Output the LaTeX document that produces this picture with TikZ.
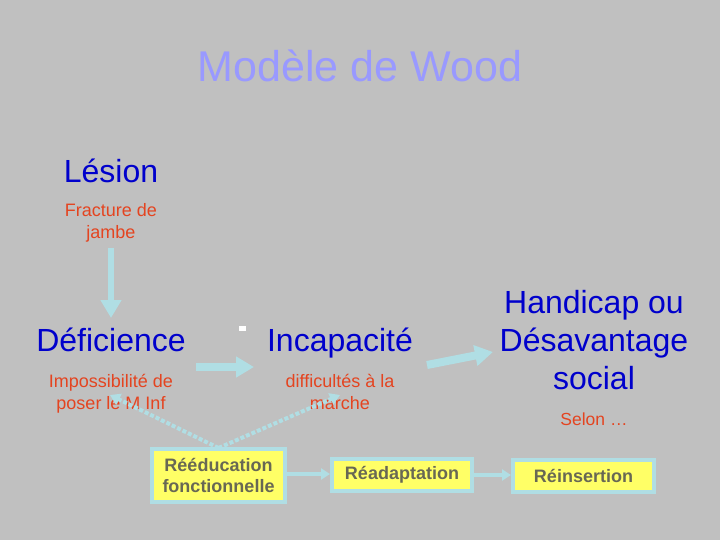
\documentclass[tikz,border=0pt]{standalone}
\usepackage{fontspec}
\setmainfont{Liberation Sans}
\usetikzlibrary{arrows.meta}
\definecolor{bg}{RGB}{192,192,192}
\definecolor{ttl}{RGB}{153,153,255}
\definecolor{blu}{RGB}{0,0,204}
\definecolor{rd}{RGB}{228,68,32}
\definecolor{pb}{RGB}{176,222,228}
\definecolor{yel}{RGB}{255,255,102}
\definecolor{boxtxt}{RGB}{104,104,84}
\tikzset{
  bigtxt/.style={font=\fontsize{32}{38}\selectfont, text=blu, anchor=base, inner sep=0pt},
  subtxt/.style={font=\fontsize{18}{22}\selectfont, text=rd, anchor=base, inner sep=0pt},
  fatarrow/.style={draw=pb, -{Triangle[length=18pt,width=20pt]}},
  dotarrow/.style={draw=pb, line width=4pt, dash pattern=on 4pt off 2pt, -{Triangle[length=10pt,width=12pt]}},
  thinarrow/.style={draw=pb, line width=3.5pt, -{Triangle[length=9pt,width=11pt]}},
  yellowbox/.style={draw=pb, line width=4pt, fill=yel, text=boxtxt, inner sep=0pt, align=center,
    font=\bfseries\fontsize{18}{21}\selectfont}
}
\begin{document}
\begin{tikzpicture}[x=1pt,y=-1pt]
\fill[bg] (0,0) rectangle (720,540);
\useasboundingbox (0,0) rectangle (720,540);

\node[font=\fontsize{43}{50}\selectfont, text=ttl, anchor=base, inner sep=0pt] (title) at (360,82) {Modèle de Wood};

\node[bigtxt] (lesion) at (111,183) {Lésion};
\node[subtxt] (frac1) at (111,217) {Fracture de};
\node[subtxt] (frac2) at (111,239) {jambe};

\node[bigtxt] (defic) at (111,351) {Déficience};
\node[subtxt] (imp1) at (111,387) {Impossibilité de};
\node[subtxt] (imp2) at (111,409) {poser le M Inf};

\node[bigtxt] (incap) at (340,351) {Incapacité};
\node[subtxt] (diff1) at (340,387) {difficultés à la};
\node[subtxt] (diff2) at (340,409) {marche};

\node[bigtxt] (hand1) at (594,313) {Handicap ou};
\node[bigtxt] (hand2) at (594,351) {Désavantage};
\node[bigtxt] (hand3) at (594,389) {social};
\node[subtxt, font=\fontsize{17.5}{22}\selectfont] (selon) at (594,425) {Selon …};

\node[fill=white, minimum width=7pt, minimum height=5pt, inner sep=0pt] (mark) at (242.5,328.5) {};

% big arrows
\coordinate (v1) at (111,248);
\coordinate (v2) at (111,318);
\draw[fatarrow, line width=6.5pt] (v1) -- (v2);
\coordinate (h1) at (196,367);
\coordinate (h2) at (254,367);
\draw[fatarrow, line width=8pt] (h1) -- (h2);
\coordinate (d1) at (427,365);
\coordinate (d2) at (493,352);
\draw[fatarrow, line width=8pt] (d1) -- (d2);

% boxes
\node[yellowbox, minimum width=133pt, minimum height=53pt] (reed) at (218.5,475.5) {Rééducation\\fonctionnelle};
\node[yellowbox, minimum width=140pt, minimum height=32pt] (readapt) at (402,475) {Réadaptation};
\node[yellowbox, minimum width=141pt, minimum height=32pt] (reins) at (583.5,476) {Réinsertion};

\draw[thinarrow] (reed.east |- 0,474) -- (readapt.west |- 0,474);
\draw[thinarrow] (readapt.east |- 0,475) -- (reins.west |- 0,475);

% dotted arrows
\coordinate (t1) at (110,395);
\coordinate (t2) at (340,395);
\draw[dotarrow] ([yshift=-1pt]reed.north) -- (t1);
\draw[dotarrow] ([yshift=-1pt]reed.north) -- (t2);
\end{tikzpicture}
\end{document}
